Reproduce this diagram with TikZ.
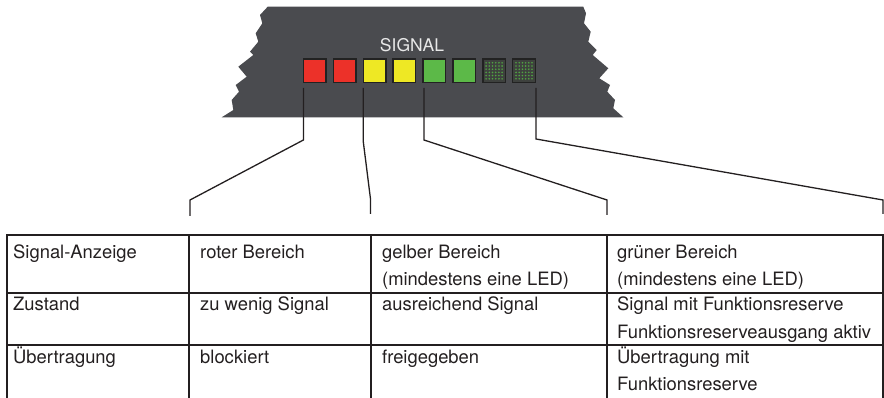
\documentclass[tikz,border=0pt]{standalone}
\usepackage{fontspec}
\setmainfont{TeX Gyre Heros}
\definecolor{bodycol}{RGB}{74,75,79}
\definecolor{ledred}{RGB}{236,49,41}
\definecolor{ledyel}{RGB}{238,232,36}
\definecolor{ledgrn}{RGB}{92,185,72}
\definecolor{ledoff}{RGB}{62,65,62}
\definecolor{leddot}{RGB}{80,165,66}
\definecolor{ledborder}{RGB}{34,34,34}
\definecolor{linecol}{RGB}{35,31,32}
\definecolor{labelcol}{RGB}{232,232,232}
\begin{document}
\begin{tikzpicture}[x=1pt,y=-1pt,
  txt/.style={anchor=base west,inner sep=0pt,font=\fontsize{18.4}{22}\selectfont,text=linecol},
  led/.style={draw=ledborder,line width=1.4pt,minimum width=22.6pt,minimum height=23.6pt,inner sep=0pt},
  conn/.style={draw=linecol,line width=1.3pt},
  tabline/.style={draw=linecol,line width=2pt}]
\useasboundingbox (0,0) rectangle (884,398);
% device body
\fill[bodycol] (267.7,6.7) -- (583.3,6.7) -- (586,13.3) -- (584,23.3) -- (590.7,31.7)
  -- (588.3,41.7) -- (596.7,50) -- (592.7,55) -- (608.3,68.3) -- (599.3,78.3)
  -- (610,85) -- (607.3,91.7) -- (615,100) -- (613.3,108.3) -- (623.3,117.3)
  -- (221.7,117.3) -- (233.3,110) -- (231.7,100) -- (239,91.7) -- (235.7,85)
  -- (246.7,76.7) -- (238.3,66.7) -- (253.3,55) -- (250,51.7) -- (258.3,41.7)
  -- (255.7,33.3) -- (262.3,23.3) -- (260,15) -- cycle;
\node[anchor=base,inner sep=0pt,font=\fontsize{17.5}{20}\selectfont,text=labelcol] (signal) at (412,52) {SIGNAL};
% LEDs
\foreach \i/\c in {1/ledred,2/ledred,3/ledyel,4/ledyel,5/ledgrn,6/ledgrn,7/ledoff,8/ledoff}
  \node[led,fill=\c] (led\i) at ({314.7+29.9*(\i-1)},70.8) {};
\foreach \i in {7,8}
  \foreach \a in {0,...,5}
    \foreach \b in {0,...,5}
      \fill[leddot] ({314.7+29.9*(\i-1)-8+3.2*\a},{70.8-8+3.2*\b}) circle (0.9pt);
% connector points
\coordinate (s1) at (303.4,88);  \coordinate (b1) at (303.4,140);
\coordinate (k1) at (190,200);   \coordinate (e1) at (190,216);
\coordinate (s2) at (363.2,88);  \coordinate (b2) at (363.2,141);
\coordinate (k2) at (370.5,199); \coordinate (e2) at (370.5,214);
\coordinate (s3) at (424,88);    \coordinate (b3) at (424,140);
\coordinate (k3) at (607,200);   \coordinate (e3) at (607,215);
\coordinate (s4) at (536,88);    \coordinate (b4) at (536,139);
\coordinate (k4) at (883,200);   \coordinate (e4) at (883,214);
\foreach \n in {1,2,3,4}
  \draw[conn] (s\n) -- (b\n) -- (k\n) -- (e\n);
% table grid
\foreach \y in {235.5,293,344.5}
  \draw[tabline] (6,\y) -- (884,\y);
\foreach \x in {7,188.5,371,607,883}
  \draw[tabline] (\x,234.5) -- (\x,398);
% table texts
\node[txt] (r1c1) at (13,259) {Signal-Anzeige};
\node[txt] (r2c1) at (13,311) {Zustand};
\node[txt] (r3c1) at (13,363) {Übertragung};
\node[txt] (r1c2) at (200,259) {roter Bereich};
\node[txt] (r2c2) at (200,311) {zu wenig Signal};
\node[txt] (r3c2) at (200,363) {blockiert};
\node[txt] (r1c3) at (382,259) {gelber Bereich};
\node[txt] (r1c3b) at (382,286) {(mindestens eine LED)};
\node[txt] (r2c3) at (382,311) {ausreichend Signal};
\node[txt] (r3c3) at (382,363) {freigegeben};
\node[txt] (r1c4) at (617,259) {grüner Bereich};
\node[txt] (r1c4b) at (617,286) {(mindestens eine LED)};
\node[txt] (r2c4) at (617,311) {Signal mit Funktionsreserve};
\node[txt] (r2c4b) at (617,338) {Funktionsreserveausgang aktiv};
\node[txt] (r3c4) at (617,363) {Übertragung mit};
\node[txt] (r3c4b) at (617,390) {Funktionsreserve};
\end{tikzpicture}
\end{document}
